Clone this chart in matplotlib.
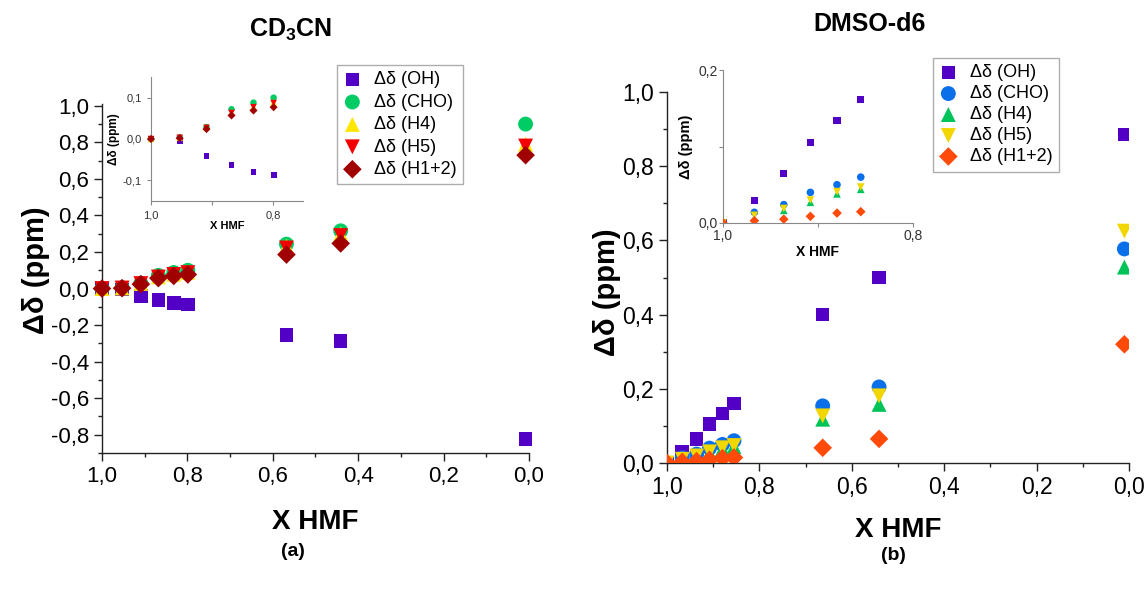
import matplotlib
matplotlib.use("Agg")
import matplotlib.pyplot as plt
from matplotlib.ticker import MultipleLocator, FuncFormatter

plt.rcParams["font.family"] = ["Liberation Sans", "DejaVu Sans"]
plt.rcParams["mathtext.fontset"] = "custom"
plt.rcParams["mathtext.rm"] = "Liberation Sans"
plt.rcParams["mathtext.bf"] = "Liberation Sans:bold"

# ---- (a) CD3CN ----
x_cd3cn = [1.0, 0.953, 0.909, 0.868, 0.832, 0.799, 0.568, 0.441, 0.008]
cd3cn_oh = [0.0, -0.006, -0.041, -0.063, -0.079, -0.087, -0.254, -0.287, -0.822]
cd3cn_cho = [0.0, 0.004, 0.029, 0.072, 0.088, 0.100, 0.243, 0.316, 0.90]
cd3cn_h4 = [0.0, 0.003, 0.028, 0.064, 0.078, 0.089, 0.232, 0.300, 0.79]
cd3cn_h5 = [0.0, 0.003, 0.027, 0.063, 0.077, 0.087, 0.222, 0.290, 0.78]
cd3cn_h12 = [0.0, 0.002, 0.024, 0.057, 0.069, 0.077, 0.186, 0.247, 0.73]

# ---- (b) DMSO-d6 ----
x_dmso = [1.0, 0.967, 0.936, 0.908, 0.880, 0.855, 0.663, 0.541, 0.01]
dmso_oh = [0.0, 0.030, 0.065, 0.105, 0.134, 0.161, 0.400, 0.500, 0.885]
dmso_cho = [0.0, 0.014, 0.024, 0.040, 0.050, 0.060, 0.154, 0.205, 0.577]
dmso_h4 = [0.0, 0.0065, 0.0165, 0.027, 0.038, 0.044, 0.118, 0.158, 0.528]
dmso_h5 = [0.0, 0.010, 0.019, 0.030, 0.041, 0.047, 0.127, 0.181, 0.625]
dmso_h12 = [0.0, 0.003, 0.005, 0.0087, 0.013, 0.0148, 0.041, 0.065, 0.320]

labels = ["Δδ (OH)", "Δδ (CHO)", "Δδ (H4)", "Δδ (H5)", "Δδ (H1+2)"]
markers = ["s", "o", "^", "v", "D"]
colors_a = ["#5300C6", "#00CC66", "#FFE600", "#F50000", "#A00000"]
colors_b = ["#5300C6", "#0A6FE8", "#00C45A", "#F2D600", "#FF4A0A"]

W, H = 1148, 596


def rect(x0, y0, x1, y1):
    # pixel box -> figure fraction
    return [x0 / W, 1 - y1 / H, (x1 - x0) / W, (y1 - y0) / H]


def comma(v, pos):
    return f"{v:.1f}".replace(".", ",").replace("-0,0", "0,0")


def style_axes(ax, size, color="black", lw=1.0, major=6, minor=3):
    for s in ["top", "right"]:
        ax.spines[s].set_visible(False)
    for s in ["left", "bottom"]:
        ax.spines[s].set_color(color)
        ax.spines[s].set_linewidth(lw)
    ax.tick_params(which="major", direction="out", length=major, width=lw,
                   color=color, labelsize=size)
    ax.tick_params(which="minor", direction="out", length=minor, width=lw, color=color)
    ax.xaxis.set_major_formatter(FuncFormatter(comma))
    ax.yaxis.set_major_formatter(FuncFormatter(comma))
    ax.set_facecolor("none")


def add_legend(ax, x0, y0, spacing):
    ax.legend(loc="upper left", bbox_to_anchor=(x0 / W, 1 - y0 / H),
              bbox_transform=fig.transFigure, borderaxespad=0, fontsize=13,
              frameon=True, fancybox=False, edgecolor="#999999",
              handlelength=1.0, handletextpad=0.7, labelspacing=spacing,
              borderpad=0.35, scatterpoints=1)


fig = plt.figure(figsize=(W / 100, H / 100), dpi=100)

sizes_main = [95, 115, 115, 115, 90]
sizes_in_a = [18, 22, 22, 22, 17]
sizes_in_b = [26, 30, 30, 30, 24]

# ---------- panel (a) ----------
ax_a = fig.add_axes(rect(102, 104, 529, 453))
ys_a = [cd3cn_oh, cd3cn_cho, cd3cn_h4, cd3cn_h5, cd3cn_h12]
for y, m, c, lab, s in zip(ys_a, markers, colors_a, labels, sizes_main):
    ax_a.scatter(x_cd3cn, y, marker=m, s=s, color=c, edgecolors="none", label=lab,
                 clip_on=False, zorder=3)
ax_a.set_xlim(1.0, 0.0)
ax_a.set_ylim(-0.9, 1.01)
ax_a.xaxis.set_major_locator(MultipleLocator(0.2))
ax_a.xaxis.set_minor_locator(MultipleLocator(0.1))
ax_a.yaxis.set_major_locator(MultipleLocator(0.2))
ax_a.yaxis.set_minor_locator(MultipleLocator(0.1))
style_axes(ax_a, 16, color="#222222")
ax_a.set_xlabel("X HMF", fontsize=20, fontweight="bold", labelpad=16)
add_legend(ax_a, 337, 65, 0.3)

ins_a = fig.add_axes(rect(151, 77, 303.5, 201))
for y, m, c, s in zip(ys_a, markers, colors_a, sizes_in_a):
    ins_a.scatter(x_cd3cn[:6], y[:6], marker=m, s=s, color=c, edgecolors="none",
                  clip_on=False, zorder=3)
ins_a.set_xlim(1.0, 0.75)
ins_a.set_ylim(-0.15, 0.15)
ins_a.set_xticks([1.0, 0.8])
ins_a.xaxis.set_minor_locator(MultipleLocator(0.1))
ins_a.set_yticks([-0.1, 0.0, 0.1])
style_axes(ins_a, 8, color="#888888", lw=0.8, major=3, minor=3)
ins_a.tick_params(labelcolor="#333333")
ins_a.set_xlabel("X HMF", fontsize=8, fontweight="bold", labelpad=1)
ins_a.set_ylabel("Δδ (ppm)", fontsize=8.5, fontweight="bold", labelpad=2)

# ---------- panel (b) ----------
ax_b = fig.add_axes(rect(667, 92, 1129, 463))
ys_b = [dmso_oh, dmso_cho, dmso_h4, dmso_h5, dmso_h12]
for y, m, c, lab, s in zip(ys_b, markers, colors_b, labels, sizes_main):
    ax_b.scatter(x_dmso, y, marker=m, s=s, color=c, edgecolors="none", label=lab,
                 zorder=3)
ax_b.set_xlim(1.0, 0.0)
ax_b.set_ylim(0.0, 1.0)
ax_b.xaxis.set_major_locator(MultipleLocator(0.2))
ax_b.xaxis.set_minor_locator(MultipleLocator(0.1))
ax_b.yaxis.set_major_locator(MultipleLocator(0.2))
ax_b.yaxis.set_minor_locator(MultipleLocator(0.1))
style_axes(ax_b, 16.5, color="#222222")
ax_b.set_xlabel("X HMF", fontsize=20, fontweight="bold", labelpad=13)
add_legend(ax_b, 933, 58, 0.22)

ins_b = fig.add_axes(rect(723, 70, 913, 223))
for y, m, c, s in zip(ys_b, markers, colors_b, sizes_in_b):
    ins_b.scatter(x_dmso[:6], y[:6], marker=m, s=s, color=c, edgecolors="none",
                  zorder=3)
ins_b.set_xlim(1.0, 0.8)
ins_b.set_ylim(0.0, 0.2)
ins_b.set_xticks([1.0, 0.8])
ins_b.xaxis.set_minor_locator(MultipleLocator(0.1))
ins_b.set_yticks([0.0, 0.2])
ins_b.yaxis.set_minor_locator(MultipleLocator(0.1))
style_axes(ins_b, 10, color="#888888", lw=0.8, major=3, minor=3)
ins_b.tick_params(labelcolor="#333333", pad=1)
ins_b.set_xlabel("X HMF", fontsize=10, fontweight="bold", labelpad=2)
ins_b.set_ylabel("Δδ (ppm)", fontsize=10.5, fontweight="bold", labelpad=4)

# ---------- figure texts ----------
fig.text(36 / W, 1 - 270 / H, "Δδ (ppm)", rotation=90, fontsize=21,
         fontweight="bold", ha="center", va="center")
fig.text(607 / W, 1 - 292 / H, "Δδ (ppm)", rotation=90, fontsize=21,
         fontweight="bold", ha="center", va="center")
fig.text(291 / W, 1 - 30 / H, r"CD$_\mathbf{3}$CN", fontsize=18,
         fontweight="bold", ha="center", va="center")
fig.text(870 / W, 1 - 24 / H, "DMSO-d6", fontsize=18,
         fontweight="bold", ha="center", va="center")
fig.text(293 / W, 1 - 551 / H, "(a)", fontsize=14, fontweight="bold",
         ha="center", va="center")
fig.text(893 / W, 1 - 556 / H, "(b)", fontsize=14, fontweight="bold",
         ha="center", va="center")

fig.savefig("out.png", dpi=100)
